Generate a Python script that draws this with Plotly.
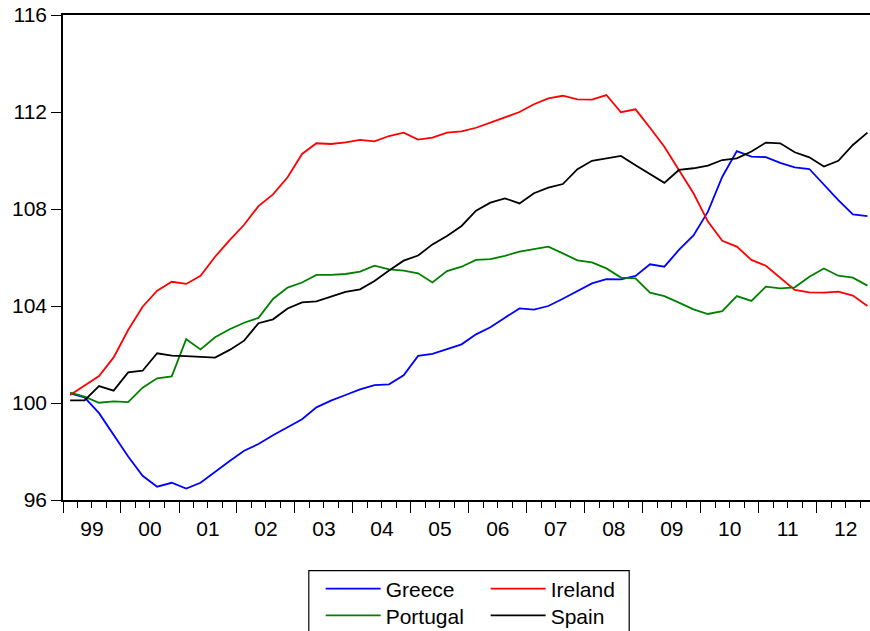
import plotly.graph_objects as go
import pandas as pd

years = list(range(1999, 2013))
quarters = [f"{y}-Q{q}" for y in years for q in range(1, 5)]

greece = [100.40, 100.23, 99.58, 98.68, 97.79, 97.00, 96.55, 96.71, 96.47, 96.71,
          97.17, 97.61, 98.03, 98.31, 98.67, 99.00, 99.33, 99.82, 100.10, 100.33,
          100.56, 100.74, 100.77, 101.14, 101.94, 102.03, 102.23, 102.42, 102.83, 103.12,
          103.52, 103.90, 103.85, 104.00, 104.30, 104.62, 104.93, 105.11, 105.10, 105.24,
          105.72, 105.62, 106.31, 106.91, 107.89, 109.33, 110.39, 110.16, 110.14, 109.90,
          109.72, 109.65, 108.99, 108.37, 107.78, 107.71]
ireland = [100.33, 100.71, 101.11, 101.88, 103.01, 103.97, 104.63, 105.00, 104.91, 105.25,
           106.03, 106.72, 107.35, 108.12, 108.60, 109.31, 110.27, 110.71, 110.68, 110.75,
           110.85, 110.79, 111.01, 111.15, 110.86, 110.94, 111.15, 111.20, 111.35, 111.56,
           111.78, 112.00, 112.32, 112.56, 112.67, 112.52, 112.51, 112.70, 111.99, 112.11,
           111.35, 110.57, 109.61, 108.65, 107.48, 106.69, 106.45, 105.90, 105.66, 105.18,
           104.66, 104.56, 104.55, 104.59, 104.43, 104.00]
portugal = [100.43, 100.26, 100.01, 100.07, 100.04, 100.63, 101.02, 101.10, 102.63, 102.21,
            102.71, 103.04, 103.31, 103.51, 104.29, 104.76, 104.97, 105.28, 105.28, 105.32,
            105.42, 105.66, 105.51, 105.46, 105.35, 104.97, 105.44, 105.62, 105.90, 105.93,
            106.07, 106.24, 106.35, 106.45, 106.17, 105.88, 105.80, 105.55, 105.17, 105.14,
            104.55, 104.41, 104.14, 103.86, 103.67, 103.79, 104.41, 104.21, 104.80, 104.73,
            104.77, 105.21, 105.55, 105.25, 105.17, 104.84]
spain = [100.11, 100.11, 100.70, 100.51, 101.26, 101.33, 102.05, 101.95, 101.93, 101.90,
         101.87, 102.19, 102.57, 103.29, 103.45, 103.90, 104.15, 104.19, 104.40, 104.58,
         104.69, 105.03, 105.46, 105.87, 106.08, 106.54, 106.89, 107.30, 107.93, 108.26,
         108.44, 108.23, 108.65, 108.88, 109.03, 109.64, 109.99, 110.09, 110.19, 109.80,
         109.44, 109.08, 109.61, 109.68, 109.79, 110.02, 110.09, 110.37, 110.74, 110.71,
         110.34, 110.13, 109.75, 109.99, 110.64, 111.15]

series = [("Greece", greece, "#0000FF", "legend"),
          ("Ireland", ireland, "#FF0000", "legend"),
          ("Portugal", portugal, "#008000", "legend2"),
          ("Spain", spain, "#000000", "legend2")]

x_dates = [pd.Period(q, freq="Q").start_time.strftime("%Y-%m-%d") for q in quarters]

FONT = "Arial, Liberation Sans, sans-serif"
LEG_X = 0.3193

fig = go.Figure()
for name, vals, color, leg in series:
    fig.add_trace(go.Scatter(
        x=x_dates, y=vals, name=name, mode="lines",
        xperiod="M3", xperiodalignment="middle",
        line=dict(color=color, width=1.8),
        legend=leg,
    ))

leg_common = dict(orientation="h", xanchor="left", yanchor="middle",
                  entrywidth=95, itemwidth=55, bgcolor="rgba(0,0,0,0)", borderwidth=0,
                  font=dict(family=FONT, size=21, color="black"))

fig.update_layout(
    width=870, height=631,
    margin=dict(l=63, r=0, t=15, b=131, autoexpand=False),
    paper_bgcolor="white", plot_bgcolor="white",
    font=dict(family=FONT, size=21, color="black"),
    showlegend=True,
    legend=dict(x=LEG_X, y=-0.1835, **leg_common),
    legend2=dict(x=LEG_X, y=-0.2386, **leg_common),
    shapes=[dict(type="rect", xref="paper", yref="paper",
                 x0=0.3046, x1=0.7016, y0=-0.40, y1=-0.1458,
                 line=dict(color="black", width=1.2), fillcolor="rgba(0,0,0,0)")],
)

fig.update_xaxes(
    type="date", range=["1999-01-01", "2012-12-02"],
    dtick="M12", tick0="1999-01-01", tickformat="%y", ticklabelmode="period",
    ticks="outside", ticklen=11, tickwidth=1.2, tickcolor="black",
    minor=dict(dtick="M3", ticks="outside", ticklen=6, tickwidth=1.2, tickcolor="black"),
    showline=True, linecolor="black", linewidth=1.5, mirror=True,
    showgrid=False, zeroline=False, ticklabelstandoff=-2,
    tickfont=dict(family=FONT, size=21, color="black"),
)
fig.update_yaxes(
    range=[96, 116], dtick=4, tick0=96,
    ticks="outside", ticklen=10, tickwidth=1.2, tickcolor="black",
    showline=True, linecolor="black", linewidth=1.5, mirror=False,
    showgrid=False, zeroline=False, ticklabeloverflow="allow",
    tickfont=dict(family=FONT, size=21, color="black"),
)

fig.write_html("out.html",
               config={"displayModeBar": False},
               post_script="document.body.style.margin='0';document.body.style.overflow='hidden';")
